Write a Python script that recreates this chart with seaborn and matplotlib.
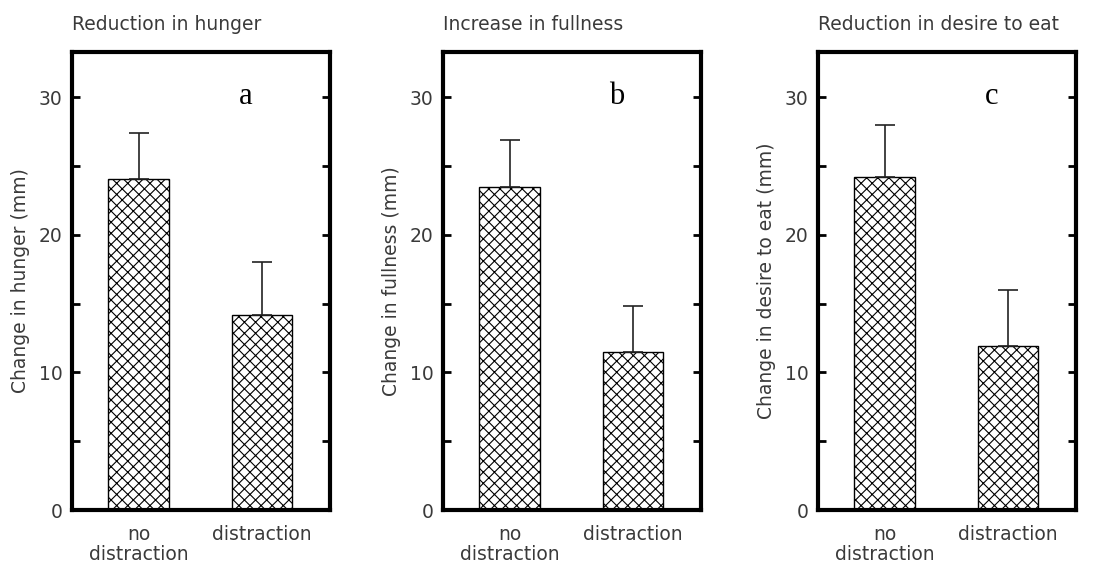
import matplotlib
matplotlib.use("Agg")
import matplotlib.pyplot as plt
from matplotlib.ticker import MultipleLocator
import seaborn as sns
import pandas as pd

# ---- data ----
conditions = ["no\ndistraction", "distraction"]
titles = ["Reduction in hunger", "Increase in fullness", "Reduction in desire to eat"]
ylabels = ["Change in hunger (mm)", "Change in fullness (mm)", "Change in desire to eat (mm)"]
panel_letters = ["a", "b", "c"]
hunger_means = [24.1, 14.2]
hunger_errs = [3.3, 3.8]
fullness_means = [23.5, 11.5]
fullness_errs = [3.4, 3.3]
desire_means = [24.2, 11.9]
desire_errs = [3.8, 4.1]
yticks = [0, 10, 20, 30]

means_all = [hunger_means, fullness_means, desire_means]
errs_all = [hunger_errs, fullness_errs, desire_errs]

sns.set_theme(style="white")
plt.rcParams["font.family"] = ["DejaVu Sans"]
plt.rcParams["hatch.linewidth"] = 0.8
plt.rcParams["hatch.color"] = "black"

TXT = "#3a3a3a"
FS = 13.5
W, H = 1093, 562
fig = plt.figure(figsize=(W / 100, H / 100), dpi=100)

lefts = [72, 443, 818]
for i in range(3):
    ax = fig.add_axes([lefts[i] / W, 52 / H, 258 / W, 458 / H])
    df = pd.DataFrame({"condition": conditions, "value": means_all[i]})
    sns.barplot(data=df, x="condition", y="value", ax=ax, color="white",
                edgecolor="black", linewidth=1.0, hatch="xxx", width=0.49,
                errorbar=None, saturation=1)
    ax.errorbar(x=[0, 1], y=means_all[i], yerr=[[0, 0], errs_all[i]],
                fmt="none", ecolor="#222222", elinewidth=1.2, capsize=7.5,
                capthick=1.2, zorder=3)
    ax.set_xlim(-0.54, 1.55)
    ax.set_ylim(0, 33.3)
    ax.set_yticks(yticks)
    ax.yaxis.set_minor_locator(MultipleLocator(5))
    ax.tick_params(axis="y", which="both", direction="in", left=True, right=True,
                   length=6, width=2, color="black", labelsize=FS,
                   labelcolor=TXT, pad=7)
    ax.tick_params(axis="x", length=0, labelsize=FS, labelcolor=TXT, pad=11)
    for lab in ax.get_xticklabels():
        lab.set_verticalalignment("top")
        lab.set_linespacing(1.05)
    for s in ax.spines.values():
        s.set_visible(True)
        s.set_linewidth(3)
        s.set_color("black")
    ax.set_xlabel("")
    ax.set_ylabel(ylabels[i], fontsize=FS, color=TXT, labelpad=6)
    ax.text(0.0, 1.04, titles[i], transform=ax.transAxes, ha="left",
            va="bottom", fontsize=FS, color=TXT)
    ax.text(0.87, 29.5, panel_letters[i], ha="center", va="baseline",
            fontsize=22, family="Liberation Serif", color="black")

fig.savefig("out.png", dpi=100)
